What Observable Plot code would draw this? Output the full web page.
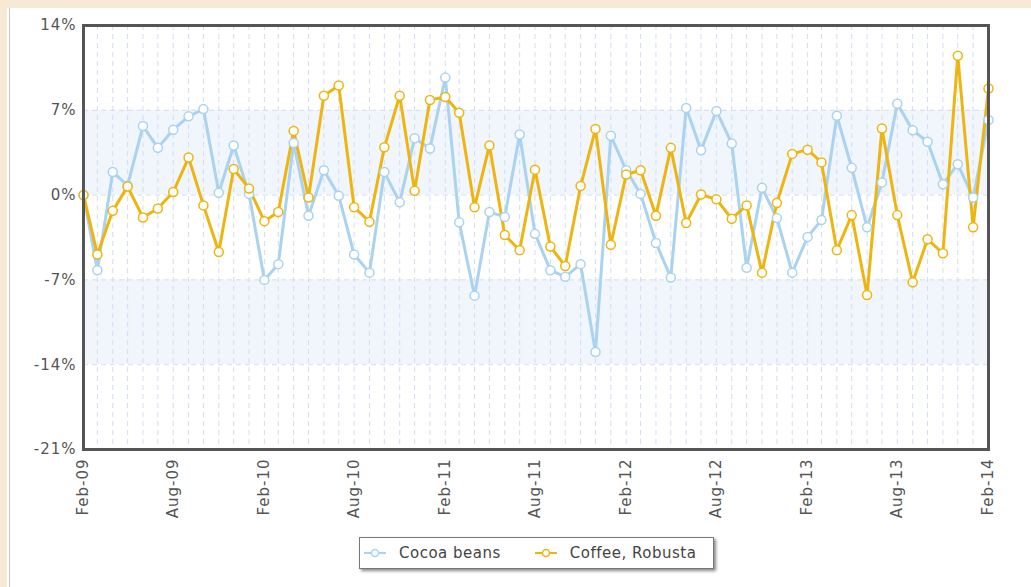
<!DOCTYPE html>
<html>
<head>
<meta charset="utf-8">
<script src="https://cdn.jsdelivr.net/npm/d3@7"></script>
<script src="https://cdn.jsdelivr.net/npm/@observablehq/plot@0.6"></script>
<style>
  html, body { margin: 0; padding: 0; background: #ffffff; width: 1031px; height: 587px; overflow: hidden; }
  #topstrip { position: absolute; left: 0; top: 0; width: 1031px; height: 8px; background: #f6ead6; }
  #leftstrip { position: absolute; left: 0; top: 0; width: 7px; height: 587px; background: #f6ead6; }
  #leftline { position: absolute; left: 9px; top: 8px; width: 1px; height: 579px; background: #c8c8c8; }
  #chart { position: absolute; left: 0; top: 0; }
  #legend { position: absolute; left: 359px; top: 537px; width: 353px; height: 30px; border: 1px solid #777; background: #fff;
            box-shadow: 2px 2px 3px #888; font-family: "DejaVu Sans", Verdana, sans-serif; font-size: 15px; letter-spacing: 0.5px; color: #444;
            display: flex; align-items: center; white-space: nowrap; }
  .item { display: flex; align-items: center; flex-shrink: 0; margin-left: 3px; margin-right: 30px; white-space: nowrap; }
  .item svg { margin-right: 12px; flex-shrink: 0; }
</style>
</head>
<body>
<div id="topstrip"></div>
<div id="leftstrip"></div>
<div id="leftline"></div>
<div id="chart"></div>
<div id="legend"></div>
<script>
const seriesNames = ["Cocoa beans", "Coffee, Robusta"];
const seriesColors = ["#a9d3f0", "#eeb510"];
const startMonth = "2009-02-01";
const cocoa = [0, -6.2, 1.9, 0.8, 5.7, 3.9, 5.4, 6.5, 7.1, 0.2, 4.1, 0.1, -7.0, -5.7, 4.3, -1.7, 2.05, -0.05, -4.9, -6.4, 1.9, -0.6, 4.7, 3.85, 9.7, -2.25, -8.3, -1.4, -1.8, 5.0, -3.2, -6.2, -6.75, -5.7, -12.95, 4.9, 2.05, 0.1, -3.95, -6.8, 7.2, 3.7, 6.95, 4.25, -6.0, 0.6, -1.9, -6.4, -3.45, -2.05, 6.55, 2.25, -2.65, 1.05, 7.55, 5.35, 4.4, 0.9, 2.55, -0.2, 6.2];
const coffee = [0, -4.9, -1.3, 0.7, -1.85, -1.1, 0.25, 3.1, -0.85, -4.7, 2.15, 0.55, -2.15, -1.4, 5.3, -0.2, 8.2, 9.05, -1.0, -2.2, 3.95, 8.2, 0.35, 7.85, 8.1, 6.8, -1.0, 4.1, -3.3, -4.55, 2.1, -4.25, -5.85, 0.75, 5.45, -4.1, 1.7, 2.05, -1.7, 3.9, -2.3, 0.05, -0.35, -1.95, -0.85, -6.4, -0.65, 3.4, 3.75, 2.7, -4.55, -1.65, -8.25, 5.5, -1.65, -7.2, -3.65, -4.8, 11.5, -2.65, 8.8];
const yTicks = [-21, -14, -7, 0, 7, 14];
const xTickLabels = ["Feb-09","Aug-09","Feb-10","Aug-10","Feb-11","Aug-11","Feb-12","Aug-12","Feb-13","Aug-13","Feb-14"];
const bands = [{y1: 0, y2: 7}, {y1: -14, y2: -7}];

const start = new Date(startMonth + "T00:00:00Z");
const months = d3.range(cocoa.length).map(i => d3.utcMonth.offset(start, i));
const rows = [];
cocoa.forEach((v, i) => rows.push({date: months[i], value: v, series: seriesNames[0]}));
coffee.forEach((v, i) => rows.push({date: months[i], value: v, series: seriesNames[1]}));
const tickDates = xTickLabels.map((_, i) => months[i * 6]);
const labelOf = new Map(tickDates.map((d, i) => [+d, xTickLabels[i]]));

const font = '"DejaVu Sans", Verdana, sans-serif';
const chart = Plot.plot({
  width: 1031,
  height: 530,
  marginLeft: 83,
  marginRight: 43,
  marginTop: 25,
  marginBottom: 81,
  style: {fontFamily: font, fontSize: "15px", color: "#555", background: "transparent", letterSpacing: "1px"},
  x: {type: "utc", domain: [months[0], months[months.length - 1]]},
  y: {domain: [-21, 14]},
  color: {domain: seriesNames, range: seriesColors},
  marks: [
    Plot.rect(bands, {y1: "y1", y2: "y2", fill: "#f1f5fc"}),
    Plot.gridX(months, {stroke: "#d3ddf2", strokeOpacity: 1, strokeDasharray: "5,4"}),
    Plot.gridY([-14, -7, 0, 7], {stroke: "#d6ddee", strokeOpacity: 1, strokeDasharray: "5,4"}),
    Plot.axisY(yTicks, {tickSize: 0, tickPadding: 7, tickFormat: d => d + "%", label: null, fill: "#555"}),
    Plot.axisX(tickDates, {tickSize: 0, tickPadding: 9, tickRotate: -90, tickFormat: d => labelOf.get(+d), label: null, fill: "#555"}),
    Plot.line(rows, {x: "date", y: "value", stroke: "series", strokeWidth: 3, z: "series"}),
    Plot.dot(rows, {x: "date", y: "value", stroke: "series", fill: "white", r: 4.5, strokeWidth: 1.5}),
    Plot.frame({stroke: "#555", strokeWidth: 3})
  ]
});
document.getElementById("chart").appendChild(chart);

const legend = document.getElementById("legend");
seriesNames.forEach((name, i) => {
  const item = document.createElement("div");
  item.className = "item";
  item.innerHTML = `<svg width="24" height="12"><line x1="1" y1="6" x2="23" y2="6" stroke="${seriesColors[i]}" stroke-width="2"/><circle cx="12" cy="6" r="3.5" fill="white" stroke="${seriesColors[i]}" stroke-width="1.5"/></svg><span>${name}</span>`;
  legend.appendChild(item);
});
</script>
</body>
</html>
